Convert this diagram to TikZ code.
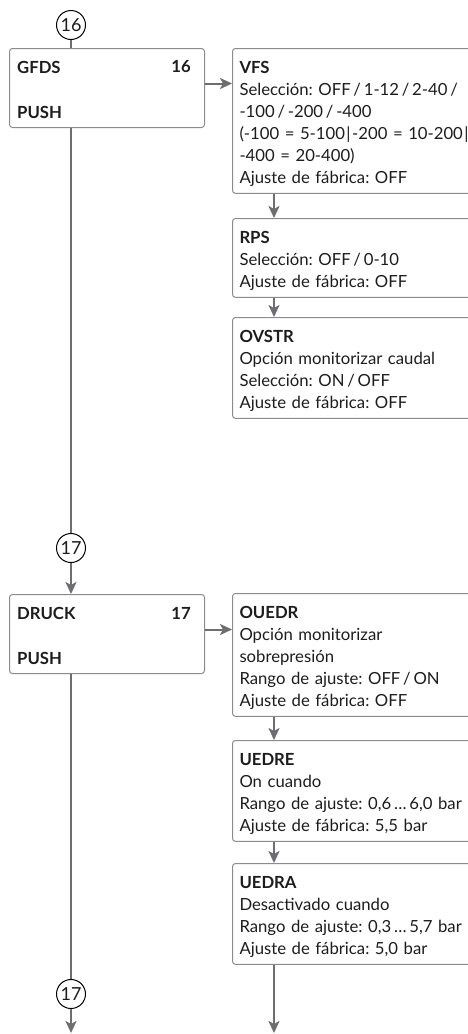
\documentclass[tikz,border=0pt]{standalone}
\usepackage{fontspec}
\setmainfont{Lato}
\usetikzlibrary{arrows.meta,calc}
\definecolor{conn}{HTML}{6D6E71}
\definecolor{frame}{HTML}{8C8C8C}
\definecolor{ink}{HTML}{1E1C1D}
\newcommand{\fsz}{\fontsize{16.7}{22}\selectfont\frenchspacing}
\newcommand{\fstrut}{\rule{0pt}{21.4pt}}
\newcommand{\lstrut}{\rule[-6.6pt]{0pt}{1pt}}
\begin{document}
\begin{tikzpicture}[x=1pt,y=-1pt,
  arr/.style={draw=conn, line width=2pt, -{Stealth[length=12pt,width=11pt,inset=3pt]}},
  plain/.style={draw=conn, line width=2pt},
  menubox/.style={draw=frame, line width=1pt, rounded corners=3pt, minimum width=195pt, minimum height=79pt, anchor=north west, inner sep=0pt},
  subbox/.style={draw=frame, line width=1pt, rounded corners=3pt, anchor=north west, text width=250pt, align=left, inner xsep=7pt, inner ysep=3.4pt, font=\fsz, text=ink},
  lbl/.style={font=\fsz\bfseries, text=ink, inner sep=0pt},
  circ/.style={circle, draw=black, line width=1pt, minimum size=29pt, inner sep=0pt, font=\fontsize{18}{18}\selectfont, text=ink},
]
\useasboundingbox (0,0) rectangle (468,1034);
\clip (0,0) rectangle (468,1034);
\fill[white] (0,0) rectangle (468,1034);

\coordinate (col) at (274,0);

% GFDS block
\node[circ] (c16) at (71,25) {16};
\node[menubox] (gfds) at (9,48) {};
\node[lbl, anchor=west] (gfdsname) at ($(gfds.north west)+(8,19)$) {GFDS};
\node[lbl, anchor=east] (gfdsnum) at ($(gfds.north east)+(-14,19)$) {16};
\node[lbl, anchor=west] (gfdspush) at ($(gfds.north west)+(8,64)$) {PUSH};

\node[subbox] (vfs) at (232,48) {\fstrut\textbf{VFS}\\
Selección: OFF\,/\,1-12\,/\,2-40\,/\\
-100\,/\,-200\,/\,-400\\
(-100 = 5-100\hspace{1.5pt}|\hspace{1.5pt}-200 = 10-200\hspace{1.5pt}|\\
-400 = 20-400)\\
Ajuste de fábrica: OFF\lstrut};

\node[subbox] (rps) at (232,218) {\fstrut\textbf{RPS}\\
Selección: OFF\,/\,0-10\\
Ajuste de fábrica: OFF\lstrut};

\node[subbox] (ovstr) at (232,317) {\fstrut\textbf{OVSTR}\\
Opción monitorizar caudal\\
Selección: ON\,/\,OFF\\
Ajuste de fábrica: OFF\lstrut};

\draw[plain] (c16.south) -- (c16.south |- gfds.north);
\draw[arr] ([yshift=4.5pt]gfds.east) -- ([yshift=4.5pt]gfds.east -| vfs.west);
\draw[arr] (vfs.south -| col) -- (rps.north -| col);
\draw[arr] (rps.south -| col) -- (ovstr.north -| col);

% DRUCK block
\node[circ] (c17a) at (71,548) {17};
\node[menubox] (druck) at (9,594) {};
\node[lbl, anchor=west] (druckname) at ($(druck.north west)+(8,19)$) {DRUCK};
\node[lbl, anchor=east] (drucknum) at ($(druck.north east)+(-14,19)$) {17};
\node[lbl, anchor=west] (druckpush) at ($(druck.north west)+(8,64)$) {PUSH};

\node[subbox] (ouedr) at (232,593) {\fstrut\textbf{OUEDR}\\
Opción monitorizar\\
sobrepresión\\
Rango de ajuste: OFF\,/\,ON\\
Ajuste de fábrica: OFF\lstrut};

\node[subbox] (uedre) at (232,740) {\fstrut\textbf{UEDRE}\\
On cuando\\
Rango de ajuste: 0,6\,…\,6,0 bar\\
Ajuste de fábrica: 5,5 bar\lstrut};

\node[subbox] (uedra) at (232,863) {\fstrut\textbf{UEDRA}\\
Desactivado cuando\\
Rango de ajuste: 0,3\,…\,5,7 bar\\
Ajuste de fábrica: 5,0 bar\lstrut};

\node[circ] (c17b) at (71,994) {17};
\coordinate (endl) at (71,1033);
\coordinate (endr) at (274,1033);

\draw[plain] (c17a.north |- gfds.south) -- (c17a.north);
\draw[arr] (c17a.south) -- (c17a.south |- druck.north);
\draw[arr] ([yshift=4.5pt]druck.east) -- ([yshift=4.5pt]druck.east -| ouedr.west);
\draw[arr] (ouedr.south -| col) -- (uedre.north -| col);
\draw[arr] (uedre.south -| col) -- (uedra.north -| col);
\draw[arr] (uedra.south -| col) -- (endr);
\draw[plain] (c17b.north |- druck.south) -- (c17b.north);
\draw[arr] (c17b.south) -- (endl);
\end{tikzpicture}
\end{document}
